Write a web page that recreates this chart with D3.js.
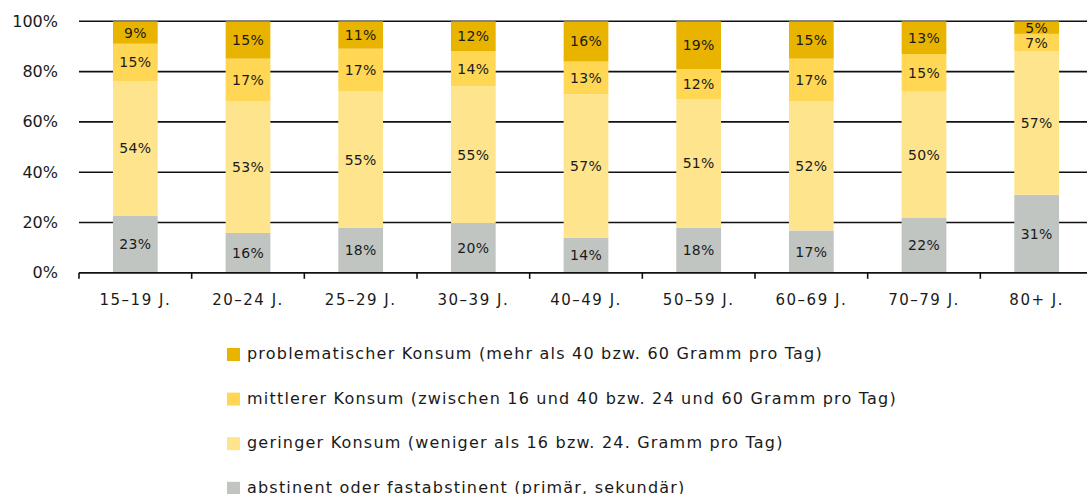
<!DOCTYPE html>
<html>
<head>
<meta charset="utf-8">
<script src="https://cdn.jsdelivr.net/npm/d3@7"></script>
<style>
  body { margin: 0; background: #fff; }
  svg text { font-family: "DejaVu Sans", sans-serif; fill: #1a1a1a; }
</style>
</head>
<body>
<div id="container"></div>
<script>
let w = 1087;
let h = 494;

// data (labels in % per age group)
let groups = ['15–19 J.', '20–24 J.', '25–29 J.', '30–39 J.', '40–49 J.', '50–59 J.', '60–69 J.', '70–79 J.', '80+ J.'];
let abstinent   = [23, 16, 18, 20, 14, 18, 17, 22, 31];
let gering      = [54, 53, 55, 55, 57, 51, 52, 50, 57];
let mittel      = [15, 17, 17, 14, 13, 12, 17, 15, 7];
let problem     = [9, 15, 11, 12, 16, 19, 15, 13, 5];
let yTicks = [0, 0.2, 0.4, 0.6, 0.8, 1];

let keys = ['abstinent', 'gering', 'mittel', 'problem'];
let legendNames = {
  problem: 'problematischer Konsum (mehr als 40 bzw. 60 Gramm pro Tag)',
  mittel: 'mittlerer Konsum (zwischen 16 und 40 bzw. 24 und 60 Gramm pro Tag)',
  gering: 'geringer Konsum (weniger als 16 bzw. 24. Gramm pro Tag)',
  abstinent: 'abstinent oder fastabstinent (primär, sekundär)'
};
let colors = {
  problem: '#e9b400',
  mittel: '#ffd754',
  gering: '#ffe48e',
  abstinent: '#c1c5c2'
};

let rows = groups.map((g, i) => ({
  group: g,
  abstinent: abstinent[i],
  gering: gering[i],
  mittel: mittel[i],
  problem: problem[i]
}));

let svg = d3.select('#container').append('svg')
            .attr('width', w)
            .attr('height', h);

let x = d3.scaleBand()
          .domain(groups)
          .range([79, 1093])
          .padding(0);

let y = d3.scaleLinear()
          .domain([0, 1])
          .range([272.8, 21.3]);

let stack = d3.stack().keys(keys).offset(d3.stackOffsetExpand);
let series = stack(rows);

// gridlines
svg.append('g')
   .selectAll('line')
   .data(yTicks)
   .enter()
   .append('line')
   .attr('x1', 79)
   .attr('x2', w)
   .attr('y1', d => y(d))
   .attr('y2', d => y(d))
   .attr('stroke', '#111')
   .attr('stroke-width', 1.6);

// y labels
svg.append('g')
   .selectAll('text')
   .data(yTicks)
   .enter()
   .append('text')
   .attr('x', 58)
   .attr('y', d => y(d) + 5.5)
   .attr('text-anchor', 'end')
   .style('font-size', '16px')
   .text(d => Math.round(d * 100) + '%');

// bars
let barW = x.bandwidth() * 0.397;

let layer = svg.append('g')
   .selectAll('g')
   .data(series)
   .enter()
   .append('g')
   .attr('fill', d => colors[d.key]);

layer.selectAll('rect')
     .data(d => d.map(p => ({ key: d.key, p: p })))
     .enter()
     .append('rect')
     .attr('x', d => x(d.p.data.group) + (x.bandwidth() - barW) / 2)
     .attr('width', barW)
     .attr('y', d => y(d.p[1]))
     .attr('height', d => y(d.p[0]) - y(d.p[1]));

layer.selectAll('text')
     .data(d => d.map(p => ({ key: d.key, p: p })))
     .enter()
     .append('text')
     .attr('x', d => x(d.p.data.group) + x.bandwidth() / 2)
     .attr('y', d => (y(d.p[0]) + y(d.p[1])) / 2 + 5)
     .attr('text-anchor', 'middle')
     .style('font-size', '14px')
     .style('letter-spacing', '0.3px')
     .text(d => d.p.data[d.key] + '%');

// x axis
let xAxis = d3.axisBottom(x).tickSize(0).tickPadding(0);

let gx = svg.append('g')
   .attr('transform', 'translate(0,' + y(0) + ')');

gx.call(xAxis);
gx.select('.domain').remove();
gx.selectAll('text')
  .attr('y', 32)
  .attr('dy', null)
  .style('font-size', '15px')
  .style('letter-spacing', '1.5px')
  .attr('font-family', null)
  .attr('fill', '#1a1a1a');

svg.append('line')
   .attr('x1', 79)
   .attr('x2', w)
   .attr('y1', y(0))
   .attr('y2', y(0))
   .attr('stroke', '#111')
   .attr('stroke-width', 1.6);

let edges = groups.map(g => x(g)).concat([x.range()[1]]);
svg.append('g')
   .selectAll('line')
   .data(edges)
   .enter()
   .append('line')
   .attr('x1', d => d)
   .attr('x2', d => d)
   .attr('y1', y(0))
   .attr('y2', y(0) + 6)
   .attr('stroke', '#111')
   .attr('stroke-width', 1.6);

// legend
let legendOrder = ['problem', 'mittel', 'gering', 'abstinent'];
let lg = svg.append('g')
            .selectAll('g')
            .data(legendOrder)
            .enter()
            .append('g')
            .attr('transform', (d, i) => 'translate(227,' + (348 + i * 44.6) + ')');

lg.append('rect')
  .attr('width', 13)
  .attr('height', 13)
  .attr('fill', d => colors[d]);

lg.append('text')
  .attr('x', 20)
  .attr('y', 11)
  .style('font-size', '16px')
  .style('letter-spacing', '1.2px')
  .text(d => legendNames[d]);
</script>
</body>
</html>
